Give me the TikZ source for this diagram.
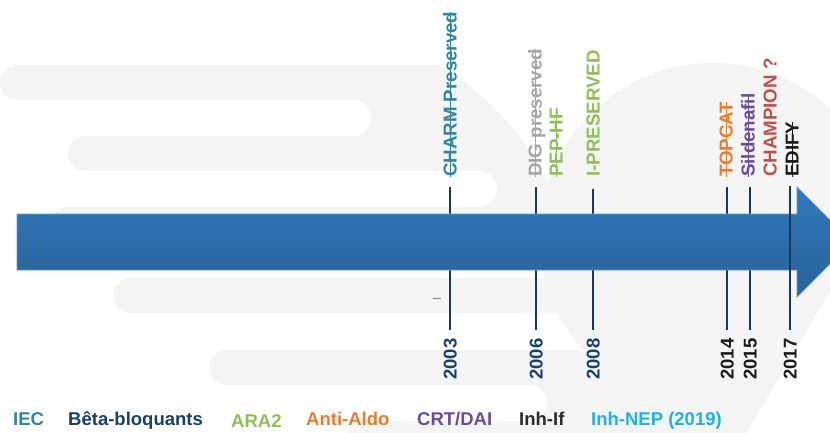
\documentclass[tikz,border=0pt]{standalone}
\usepackage{fontspec}
\setmainfont{Liberation Sans}
\newsavebox{\strkbox}
\newcommand{\strk}[1]{\sbox{\strkbox}{#1}\rlap{\rule[0.28em]{\wd\strkbox}{1.3pt}}\usebox{\strkbox}}
\definecolor{bgray}{HTML}{F4F4F4}
\definecolor{arrTop}{HTML}{3079BD}
\definecolor{arrBot}{HTML}{2A6096}
\definecolor{arrEdge}{HTML}{6A9BD0}
\definecolor{tickc}{HTML}{163A5E}
\definecolor{cTeal}{HTML}{31859C}
\definecolor{cNavy}{HTML}{17406D}
\definecolor{cGreen}{HTML}{8FBF5A}
\definecolor{cOrange}{HTML}{EC7A2C}
\definecolor{cPurple}{HTML}{6A4C9C}
\definecolor{cDark}{HTML}{2B2B2B}
\definecolor{cCyan}{HTML}{20B0E8}
\definecolor{cRed}{HTML}{C0504D}
\definecolor{cGrey}{HTML}{A6A6A6}
\definecolor{cBlack}{HTML}{1A1A1A}
\begin{document}
\begin{tikzpicture}[x=1pt,y=-1pt,
  band/.style={line width=35pt, line cap=round, draw=bgray},
  tickline/.style={line width=2.6pt, draw=tickc},
  yr/.style={rotate=90, anchor=west, inner sep=0pt, text height=13.3pt, text depth=0pt, font=\bfseries\fontsize{18.5}{20}\selectfont},
  lab/.style={rotate=90, anchor=west, inner sep=0pt, text height=13.4pt, text depth=0pt, font=\bfseries\fontsize{18.7}{20}\selectfont},
  leg/.style={anchor=base west, inner sep=0pt, font=\bfseries\fontsize{18.5}{20}\selectfont}]
\useasboundingbox (0,0) rectangle (830,432);
\clip (0,0) rectangle (830,432);
\fill[white] (0,0) rectangle (830,432);
% background decoration
\draw[band] (17.5,82.5) -- (900,82.5);
\draw[band] (85.5,153.5) -- (900,153.5);
\draw[band] (67.5,224.5) -- (900,224.5);
\draw[band] (130.5,295.5) -- (900,295.5);
\draw[band] (226.5,367.5) -- (900,367.5);
\draw[band] (364.5,438.5) -- (900,438.5);
\fill[bgray] (353,99) rectangle (900,137);
\fill[bgray] (479,170) rectangle (900,208);
\fill[bgray] (547,241) rectangle (900,279);
\fill[bgray] (617,312) rectangle (900,351);
\fill[bgray] (529,384) rectangle (900,422);
\fill[white] (353,118) circle[radius=18pt];
\fill[white] (479,189) circle[radius=18pt];
\fill[white] (547,260) circle[radius=18pt];
\fill[white] (617,331.5) circle[radius=18.5pt];
\fill[white] (529,403) circle[radius=18pt];
\fill[white] (430,40) -- (440,65) .. controls (495,100) and (540,150) .. (560,215) -- (900,215) -- (900,40) -- cycle;
\fill[bgray] (713,236) circle[radius=173pt];
\fill[white] (848,262) -- (900,262) -- (900,440) -- (742,440) -- cycle;
% tick lines
\coordinate (t03) at (450,187); \coordinate (b03) at (450,330);
\coordinate (t06) at (536,187); \coordinate (b06) at (536,330);
\coordinate (t08) at (593,189); \coordinate (b08) at (593,330);
\coordinate (t14) at (727,187); \coordinate (b14) at (727,330);
\coordinate (t15) at (750,187); \coordinate (b15) at (750,330);
\coordinate (t17) at (790,186); \coordinate (b17) at (790,330);
\draw[tickline] (t03) -- (b03);
\draw[tickline] (t06) -- (b06);
\draw[tickline] (t08) -- (b08);
\draw[tickline] (t14) -- (b14);
\draw[tickline] (t15) -- (b15);
% arrow
\path[top color=arrTop, bottom color=arrBot] (17,214) -- (797,214) -- (797,187) -- (852,242) -- (797,297) -- (797,270) -- (17,270) -- cycle;
\draw[arrEdge, line width=0.8pt] (17,214) -- (797,214) -- (797,187) -- (852,242) -- (797,297) -- (797,270) -- (17,270) -- cycle;
\draw[tickline] (t17) -- (b17);
% stray dash
\draw[gray, line width=0.7pt] (433,298) -- (441,298);
% years
\node[yr, text=cNavy] (y03) at (450,380) {2003};
\node[yr, text=cNavy] (y06) at (536,380) {2006};
\node[yr, text=cNavy] (y08) at (593,380) {2008};
\node[yr, text=cBlack] (y14) at (727,380) {2014};
\node[yr, text=cBlack] (y15) at (750,380) {2015};
\node[yr, text=cBlack] (y17) at (790,380) {2017};
% trials
\node[lab, text=cTeal] (charm) at (450,177) {\strk{CHARM Preserved}};
\node[lab, text=cGrey] (dig) at (535,177) {\strk{DIG preserved}};
\node[lab, text=cGreen] (pep) at (556,177) {\strk{PEP-HF}};
\node[lab, text=cGreen] (ipres) at (593,177) {I-PRESERVED};
\node[lab, text=cOrange] (topcat) at (726,177) {\strk{TOPCAT}};
\node[lab, text=cPurple] (silde) at (748,177) {\strk{Sildenafil}};
\node[lab, text=cRed] (champ) at (770,177) {CHAMPION ?};
\node[lab, text=cBlack] (edify) at (792,177) {\strk{EDIFY}};
% legend
\node[leg, text=cTeal] (l1) at (13,425) {IEC};
\node[leg, text=cNavy] (l2) at (68,425) {Bêta-bloquants};
\node[leg, text=cGreen] (l3) at (231,427) {ARA2};
\node[leg, text=cOrange] (l4) at (306,425) {Anti-Aldo};
\node[leg, text=cPurple] (l5) at (417,425) {CRT/DAI};
\node[leg, text=cDark] (l6) at (519,425) {Inh-If};
\node[leg, text=cCyan] (l7) at (591,425) {Inh-NEP (2019)};
\end{tikzpicture}
\end{document}
